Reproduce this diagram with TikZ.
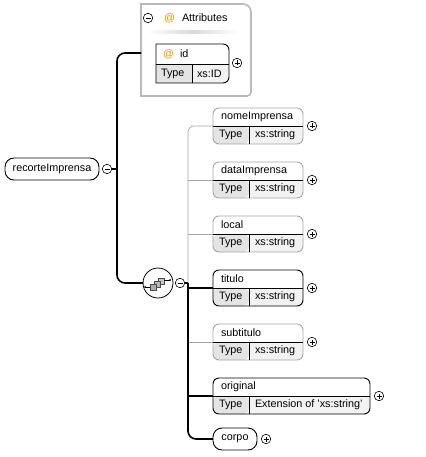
\documentclass[tikz,border=0pt]{standalone}
\usepackage{fontspec}
\setmainfont{Liberation Sans}
\usetikzlibrary{calc}
\definecolor{typecell}{RGB}{228,228,228}
\definecolor{valcell}{RGB}{242,242,242}
\definecolor{optgray}{RGB}{165,165,165}
\definecolor{attrgray}{RGB}{185,185,185}
\definecolor{atorange}{RGB}{230,150,0}
\tikzset{
  every node/.style={font=\fontsize{10.8}{12}\selectfont, inner sep=0pt, outer sep=0pt},
  lbl/.style={anchor=west},
  elem/.style={draw=black, line width=0.9pt, rounded corners=6pt, anchor=north west,
    minimum height=36pt, inner sep=0pt,
    path picture={
      \fill[typecell] (path picture bounding box.west) rectangle ([xshift=36pt]path picture bounding box.south west);
      \fill[valcell] ([xshift=36pt]path picture bounding box.west) rectangle (path picture bounding box.south east);}},
  opt/.style={draw=optgray},
  single/.style={draw=black, line width=0.9pt, rounded corners=9pt, inner sep=0pt},
  divider/.style={line width=0.7pt, black},
  pmc/.style={circle, draw=black, line width=0.6pt, minimum size=9.5pt, inner sep=0pt},
  plusc/.style={pmc, path picture={
      \draw[line width=0.6pt] ([xshift=-2.5pt]path picture bounding box.center) -- ([xshift=2.5pt]path picture bounding box.center)
        ([yshift=-2.5pt]path picture bounding box.center) -- ([yshift=2.5pt]path picture bounding box.center);}},
  minusc/.style={pmc, path picture={
      \draw[line width=0.6pt] ([xshift=-2.5pt]path picture bounding box.center) -- ([xshift=2.5pt]path picture bounding box.center);}},
  bk/.style={line width=1.6pt, black},
  gr/.style={line width=0.7pt, optgray},
}
\begin{document}
\begin{tikzpicture}[x=1pt, y=-1pt]
\useasboundingbox[fill=white] (0,0) rectangle (425,457);

% ---------- Attributes group ----------
\node[minimum width=110pt, minimum height=92pt, anchor=north west] (attr) at (141,4) {};
\draw[attrgray, line width=1.6pt] (141,4) -- (243,4) arc[start angle=-90, end angle=0, radius=8]
  -- (251,92) arc[start angle=0, end angle=90, radius=4] -- (141,96) -- cycle;
\node[minusc] (attrm) at (148,18) {};
\node[lbl, text=atorange] (attrat) at (164,18) {@};
\node[lbl] (attrt) at (182,18) {Attributes};
\shade[left color=white, right color=white, middle color=gray!30] (147,31) rectangle (238,34);

% id attribute
\begin{scope}
  \clip (156,44) -- (223,44) arc[start angle=-90, end angle=0, radius=6]
    -- (229,77) arc[start angle=0, end angle=90, radius=6] -- (156,83) -- cycle;
  \fill[typecell] (156,64) rectangle (192,83);
  \fill[valcell] (192,64) rectangle (229,83);
\end{scope}
\draw[black, line width=0.9pt] (156,44) -- (223,44) arc[start angle=-90, end angle=0, radius=6]
  -- (229,77) arc[start angle=0, end angle=90, radius=6] -- (156,83) -- cycle;
\draw[divider] (156,64) -- (229,64);
\draw[divider] (192,64) -- (192,83);
\node[lbl, text=atorange] (idat) at (163,54) {@};
\node[lbl] (idl) at (180,54) {id};
\node[lbl] (idtype) at (161,74) {Type};
\node[lbl] (idval) at (197,74) {xs:ID};
\node[plusc] (idp) at (237,63) {};

% ---------- root ----------
\node[single, minimum width=94pt, minimum height=22pt] (root) at (52,169) {recorteImprensa};
\node[minusc] (rootm) at (107,169) {};
\coordinate (busX) at (117,169);
\coordinate (attrIn) at (141,53);

% ---------- sequence ----------
\node[circle, draw=black, line width=0.8pt, minimum size=30pt] (seq) at (158,283) {};
\fill[gray!45] (158,278) rectangle (164,284);
\draw[black!70, line width=0.5pt] (158,278) rectangle (164,284);
\fill[gray!55] (154,281) rectangle (160,287);
\draw[black!70, line width=0.5pt] (154,281) rectangle (160,287);
\fill[gray!65] (150,284) rectangle (156,290);
\draw[black!70, line width=0.5pt] (150,284) rectangle (156,290);
\draw[line width=0.7pt] (145,287) -- (150,287);
\draw[line width=0.7pt] (164,280) -- (170,280);
\fill (145,287) circle (1pt);
\fill (170,280) circle (1pt);
\node[minusc] (seqm) at (180,283) {};

% ---------- children ----------
\node[elem, opt, minimum width=90pt] (nome) at (213,108) {};
\node[elem, opt, minimum width=90pt] (data) at (213,162) {};
\node[elem, opt, minimum width=90pt] (loc) at (213,216) {};
\node[elem, minimum width=90pt] (tit) at (213,270) {};
\node[elem, opt, minimum width=90pt] (subt) at (213,324) {};
\node[elem, minimum width=157pt] (orig) at (213,378) {};
\node[single, minimum width=44pt, minimum height=22pt, anchor=north west] (corpo) at (213,428) {corpo};

\foreach \n in {nome,data,loc,tit,subt,orig}{
  \draw[divider] (\n.west) -- (\n.east);
  \draw[divider] ([xshift=36pt]\n.west) -- ([xshift=36pt]\n.south west);
}

\node[lbl] (nomel) at (221,117) {nomeImprensa};
\node[lbl] (nomet) at (219,135) {Type};
\node[lbl] (nomev) at (255,135) {xs:string};
\node[lbl] (datal) at (221,171) {dataImprensa};
\node[lbl] (datat) at (219,189) {Type};
\node[lbl] (datav) at (255,189) {xs:string};
\node[lbl] (locl) at (221,225) {local};
\node[lbl] (loct) at (219,243) {Type};
\node[lbl] (locv) at (255,243) {xs:string};
\node[lbl] (titl) at (221,279) {titulo};
\node[lbl] (titt) at (219,297) {Type};
\node[lbl] (titv) at (255,297) {xs:string};
\node[lbl] (subtl) at (221,333) {subtitulo};
\node[lbl] (subtt) at (219,351) {Type};
\node[lbl] (subtv) at (255,351) {xs:string};
\node[lbl] (origl) at (221,387) {original};
\node[lbl] (origt) at (219,405) {Type};
\node[lbl] (origv) at (255,405) {Extension of 'xs:string'};

\node[plusc] (nomep) at (312,126) {};
\node[plusc] (datap) at (312,180) {};
\node[plusc] (locp) at (312,234) {};
\node[plusc] (titp) at (312,288) {};
\node[plusc] (subtp) at (312,342) {};
\node[plusc] (origp) at (379,396) {};
\node[plusc] (corpop) at (266,439) {};

% ---------- connectors ----------
\draw[bk, rounded corners=8pt] (attrIn) -| (busX) |- (seq.west);
\draw[bk] (rootm.east) -- (busX);

\coordinate (gbot) at (188,342);
\draw[gr, rounded corners=6pt] (nome.west) -| (gbot);
\draw[gr] (data.west) -- (data.west -| gbot);
\draw[gr] (loc.west) -- (loc.west -| gbot);
\draw[gr] (subt.west) -- (gbot);

\coordinate (bk1) at (188,283);
\draw[bk] (seqm.east) -- (bk1);
\draw[bk, rounded corners=8pt] (bk1) |- (corpo.west);
\draw[bk] (tit.west) -- (tit.west -| bk1);
\draw[bk] (orig.west) -- (orig.west -| bk1);
\end{tikzpicture}
\end{document}
